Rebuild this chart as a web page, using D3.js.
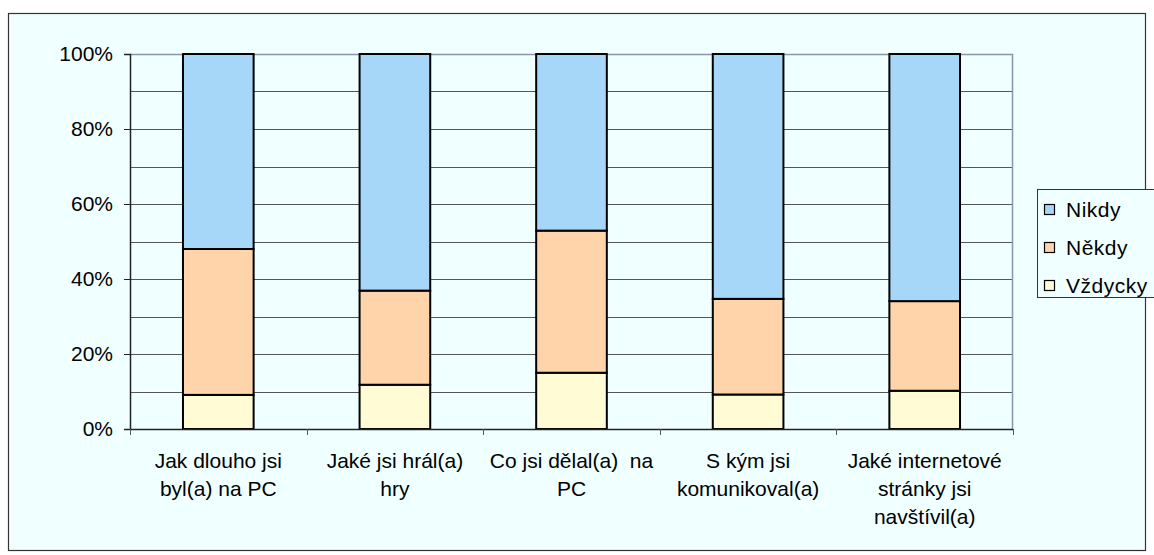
<!DOCTYPE html>
<html>
<head>
<meta charset="utf-8">
<script src="https://cdn.jsdelivr.net/npm/d3@7"></script>
<style>
  body { margin: 0; background: #fff; }
  text { font-family: "Liberation Sans", Arial, sans-serif; fill: #000; }
</style>
</head>
<body>
<div id="chart"></div>
<script>
// category labels, already broken into lines like the original
var categories = [
  ["Jak dlouho jsi", "byl(a) na PC"],
  ["Jaké jsi hrál(a)", "hry"],
  ["Co jsi dělal(a)  na", "PC"],
  ["S kým jsi", "komunikoval(a)"],
  ["Jaké internetové", "stránky jsi", "navštívil(a)"]
]
var seriesNames = ["Vždycky", "Někdy", "Nikdy"]
var vzdycky = [9.1, 11.8, 15.0, 9.2, 10.2]
var nekdy = [38.9, 25.1, 37.9, 25.5, 23.9]
var nikdy = [52.0, 63.1, 47.1, 65.3, 65.9]
var yTicks = [0, 20, 40, 60, 80, 100]
var yGrid = [10, 20, 30, 40, 50, 60, 70, 80, 90]

var colors = { "Vždycky": "#FFFBD5", "Někdy": "#FFD4AA", "Nikdy": "#A6D7F8" }

var W = 1154, H = 555
var margin = { top: 54, left: 130, right: 141, bottom: 126 }
var width = W - margin.left - margin.right,
    height = H - margin.top - margin.bottom

var svg = d3.select("#chart").append("svg")
  .attr("width", W)
  .attr("height", H)

// outer chart frame
svg.append("rect")
  .attr("x", 8.5).attr("y", 13.5)
  .attr("width", 1137).attr("height", 537)
  .attr("fill", "#F0FFFF")
  .attr("stroke", "#333").attr("stroke-width", 1.2)

var g = svg.append("g")
  .attr("transform", "translate(" + margin.left + "," + margin.top + ")")

var x = d3.scaleBand()
  .domain(d3.range(categories.length))
  .range([0, width])
  .paddingInner(0.6)
  .paddingOuter(0.3)

var xEdge = d3.scaleLinear().domain([0, categories.length]).range([0, width])

var y = d3.scaleLinear().domain([0, 100]).range([height, 0])

// grid
g.selectAll(".grid").data(yGrid).enter().append("line")
  .attr("class", "grid")
  .attr("x1", 0).attr("x2", width)
  .attr("y1", d => Math.round(y(d)) + 0.5)
  .attr("y2", d => Math.round(y(d)) + 0.5)
  .attr("stroke", "#555").attr("stroke-width", 1)

// top + right border of plot area
g.append("path")
  .attr("d", "M0,0.5H" + (width - 0.5) + "V" + height)
  .attr("fill", "none")
  .attr("stroke", "#8A96A8").attr("stroke-width", 1.5)

// stacked bars
var rows = categories.map((c, i) => ({ i: i, "Vždycky": vzdycky[i], "Někdy": nekdy[i], "Nikdy": nikdy[i] }))
var stack = d3.stack().keys(seriesNames)(rows)

g.selectAll(".series").data(stack).enter().append("g")
  .attr("class", "series")
  .attr("fill", d => colors[d.key])
  .selectAll("rect").data(d => d).enter().append("rect")
  .attr("x", d => x(d.data.i))
  .attr("width", x.bandwidth())
  .attr("y", d => y(d[1]))
  .attr("height", d => y(d[0]) - y(d[1]))
  .attr("stroke", "#000").attr("stroke-width", 2)

// y axis
var yAxis = d3.axisLeft(y).tickValues(yTicks).tickFormat(d => d + "%").tickSize(6).tickPadding(11)
var ya = g.append("g").call(yAxis)
ya.attr("font-family", null).attr("font-size", null)
ya.select(".domain").attr("stroke", "#222").attr("stroke-width", 1.5)
ya.selectAll(".tick line").attr("stroke", "#222")
ya.selectAll(".tick text").style("font-size", "21px").attr("fill", "#000")

// x axis: baseline with ticks at category edges
g.append("line")
  .attr("x1", 0).attr("x2", width)
  .attr("y1", height + 0.5).attr("y2", height + 0.5)
  .attr("stroke", "#222").attr("stroke-width", 1.5)
g.selectAll(".xtick").data(d3.range(categories.length + 1)).enter().append("line")
  .attr("class", "xtick")
  .attr("x1", d => Math.round(xEdge(d)) + 0.5).attr("x2", d => Math.round(xEdge(d)) + 0.5)
  .attr("y1", height).attr("y2", height + 6)
  .attr("stroke", "#555")

var labels = g.selectAll(".xlabel").data(categories).enter().append("text")
  .attr("class", "xlabel")
  .attr("text-anchor", "middle")
  .style("font-size", "21px")
  .attr("transform", (d, i) => "translate(" + (x(i) + x.bandwidth() / 2) + "," + (height + 39) + ")")
labels.selectAll("tspan").data(d => d).enter().append("tspan")
  .attr("x", 0)
  .attr("y", (d, j) => j * 28)
  .style("white-space", "pre")
  .text(d => d)

// legend
var leg = svg.append("g").attr("transform", "translate(1037,189)")
leg.append("rect")
  .attr("x", 0.5).attr("y", 0.5)
  .attr("width", 118).attr("height", 108)
  .attr("fill", "#F0FFFF")
  .attr("stroke", "#333")
var legItems = seriesNames.slice().reverse()
var li = leg.selectAll(".li").data(legItems).enter().append("g")
  .attr("class", "li")
  .attr("transform", (d, i) => "translate(7," + (20 + i * 38) + ")")
li.append("rect")
  .attr("x", 0.5).attr("y", -4.5)
  .attr("width", 10).attr("height", 10)
  .attr("fill", d => colors[d])
  .attr("stroke", "#000").attr("stroke-width", 1.2)
li.append("text")
  .attr("x", 22).attr("y", 8)
  .style("font-size", "21px")
  .style("letter-spacing", "0.5px")
  .text(d => d)
</script>
</body>
</html>
